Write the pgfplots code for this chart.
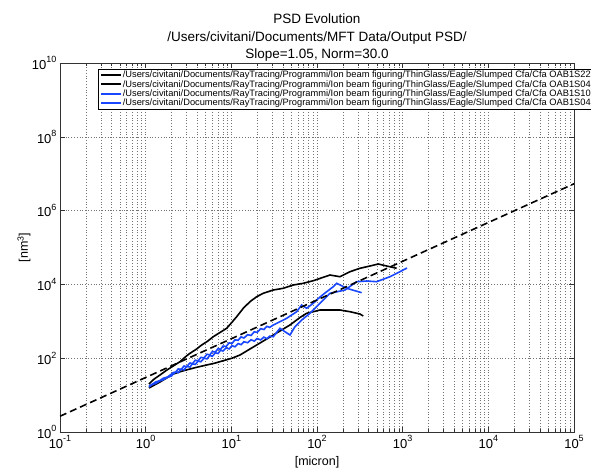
\documentclass[border=0pt]{standalone}
\usepackage{fontspec}
\setmainfont{Liberation Sans}
\usepackage{pgfplots}
\pgfplotsset{compat=1.18}
\definecolor{mblue}{RGB}{25,70,255}
\newcommand{\tp}[1]{10\raisebox{0.5em}{\fontsize{9}{9}\selectfont #1}}
\newcommand{\pad}{\rule{60pt}{0pt}}
\begin{document}
\begin{tikzpicture}
\begin{axis}[
  scale only axis, width=514pt, height=369pt,
  xmode=log, ymode=log,
  xmin=0.1, xmax=100000, ymin=1, ymax=1e10,
  xtick={0.1,1,10,100,1000,10000,100000},
  xticklabels={\tp{-1},\tp{0},\tp{1},\tp{2},\tp{3},\tp{4},\tp{5}},
  minor xtick={0.2,0.3,0.4,0.5,0.6,0.7,0.8,0.9,2,3,4,5,6,7,8,9,20,30,40,50,60,70,80,90,200,300,400,500,600,700,800,900,2000,3000,4000,5000,6000,7000,8000,9000,20000,30000,40000,50000,60000,70000,80000,90000},
  ytick={1,1e2,1e4,1e6,1e8,1e10},
  yticklabels={\tp{0},\tp{2},\tp{4},\tp{6},\tp{8},\tp{10}},
  yminorticks=false,
  xmajorgrids=true, xminorgrids=true, ymajorgrids=true,
  grid style={black!55, dash pattern=on 0.8pt off 2pt, line width=0.5pt},
  minor grid style={black!55, dash pattern=on 0.8pt off 2pt, line width=0.5pt},
  tick align=inside, major tick length=5pt, minor tick length=3pt,
  tick style={black!80, line width=0.5pt},
  axis line style={black!80, line width=0.6pt},
  tick label style={font=\fontsize{13}{13}\selectfont},
  title={PSD Evolution\\/Users/civitani/Documents/MFT Data/Output PSD/\\Slope=1.05, Norm=30.0},
  title style={at={(axis description cs:0.5,1)}, anchor=south, yshift=-5pt, inner sep=0pt, align=center, font=\fontsize{13.5}{17.5}\selectfont},
  xlabel={[micron]},
  xlabel style={at={(axis description cs:0.5,-0.0921)}, anchor=base, font=\fontsize{12.5}{12.5}\selectfont},
  legend style={at={(axis description cs:0.0739,0.9837)}, anchor=north west, draw=black, line width=0.5pt, fill=white,
    font=\fontsize{9.3}{10}\selectfont, inner xsep=2pt, inner ysep=1pt, row sep=0pt, nodes={inner sep=0.6pt}},
  legend cell align=left,
  legend image code/.code={\draw[#1, line width=2pt] (0pt,0pt) -- (20pt,0pt);},
]
\addplot[black, line width=1.6pt] coordinates {
(1.093,20.0) (1.25,27) (1.469,35.05) (1.75,47) (2.100,61.5) (2.514,80.4) (2.9,108) (3.290,135.8) (3.9,175) (4.505,227.9) (5.3,290) (6.152,382.4) (7.4,500) (8.82,646.1) (10.2,950) (11.54,1332) (13.78,2251) (16.50,3398) (19.76,4642) (23.59,5739) (30.86,7050) (40.38,7843) (52.84,9632) (69.13,10710) (90.43,12600) (118.3,15570) (141.7,17970) (185.4,16170) (242.5,22090) (317.3,27310) (415.1,31520) (519.0,35710) (650.3,31520) (851.0,27310)
};
\addlegendentry{/Users/civitani/Documents/RayTracing/Programmi/Ion beam figuring/ThinGlass/Eagle/Slumped Cfa/Cfa OAB1S22\pad}
\addplot[black, line width=1.6pt] coordinates {
(1.093,15.58) (1.469,22.65) (2.100,37.31) (2.6,44) (3.290,50.97) (4.1,58) (5.152,65.42) (6.5,74) (8.05,85.5) (10.17,100) (12.61,122) (16.50,177.6) (21.59,258) (28.24,375) (36.95,546) (48.35,794) (63.26,1268) (75.74,1648) (90.43,1820) (108.3,2024) (141.7,2024) (185.4,2024) (242.5,1820) (317.3,1577) (346.7,1392)
};
\addlegendentry{/Users/civitani/Documents/RayTracing/Programmi/Ion beam figuring/ThinGlass/Eagle/Slumped Cfa/Cfa OAB1S04\pad}
\addplot[mblue, line width=1.6pt] coordinates {
(1.093,16.6) (1.2,19.5) (1.3,20.5) (1.45,24) (1.6,26) (1.8,30.5) (2.0,33) (2.1,37.3) (2.25,43.1) (2.4,40.7) (2.6,50.6) (2.8,48.2) (3.0,59.3) (3.3,57.8) (3.5,70.5) (3.8,67.8) (4.1,84) (4.4,79.8) (4.8,99.9) (5.2,95.9) (5.6,118.8) (6.0,112.8) (6.5,140.2) (7.0,134) (7.5,164.8) (8.0,156) (8.7,190.5) (9.4,178.6) (10.2,218) (11,204) (12,249) (13,233) (14,279) (15.5,263) (17,317) (18.5,290) (20,342) (22,314) (24,372) (26,337) (28,395) (30.86,382) (36.95,646) (42.27,522.6) (48.35,425.3) (55.30,714) (66.22,1084) (82.77,1648) (99.1,2487) (118.3,3778) (141.7,5739) (212.1,7050) (290.3,11840) (379.9,12360) (497.1,11840) (710.8,16170) (929.8,22090) (1122,27820)
};
\addlegendentry{/Users/civitani/Documents/RayTracing/Programmi/Ion beam figuring/ThinGlass/Eagle/Slumped Cfa/Cfa OAB1S10\pad}
\addplot[mblue, line width=1.6pt] coordinates {
(1.093,17.6) (1.2,19.8) (1.3,22.5) (1.45,24.5) (1.6,28.5) (1.8,31) (2.0,37) (2.1,41) (2.25,41.8) (2.4,51.4) (2.6,49.5) (2.8,61.6) (3.0,58.7) (3.3,74.7) (3.5,70.4) (3.8,88.3) (4.1,85) (4.4,105.2) (4.8,102.5) (5.2,128.2) (5.6,122.9) (6.0,151.8) (6.5,146.6) (7.0,181.9) (7.5,173.9) (8.0,213.5) (8.7,207.7) (9.4,260) (10.2,251.5) (11,313.5) (12,306.4) (13,378.8) (14,352.5) (15.5,433) (17,413.6) (18.5,519) (20,499) (22,632) (24,598.8) (26,730.8) (28,685) (30.86,793.7) (36.95,975.4) (44.25,1206) (57.89,1820) (66.22,2765) (75.74,2251) (90.43,3074) (108.3,4556) (129.7,6342) (154.8,8665) (169.6,10710) (221.9,7843) (332.1,5959)
};
\addlegendentry{/Users/civitani/Documents/RayTracing/Programmi/Ion beam figuring/ThinGlass/Eagle/Slumped Cfa/Cfa OAB1S04\pad}
\addplot[black, line width=1.6pt, dash pattern=on 7pt off 4pt, forget plot] coordinates {(0.1,2.674) (100000,5.335e6)};
\end{axis}
\node[rotate=90, font=\fontsize{12.5}{12.5}\selectfont] at ([xshift=-36pt]current axis.west) {[nm\textsuperscript{3}]};
\pgfresetboundingbox
\path[use as bounding box] ([xshift=-60pt,yshift=-37pt]current axis.south west) rectangle ([xshift=17pt,yshift=63pt]current axis.north east);
\end{tikzpicture}
\end{document}
